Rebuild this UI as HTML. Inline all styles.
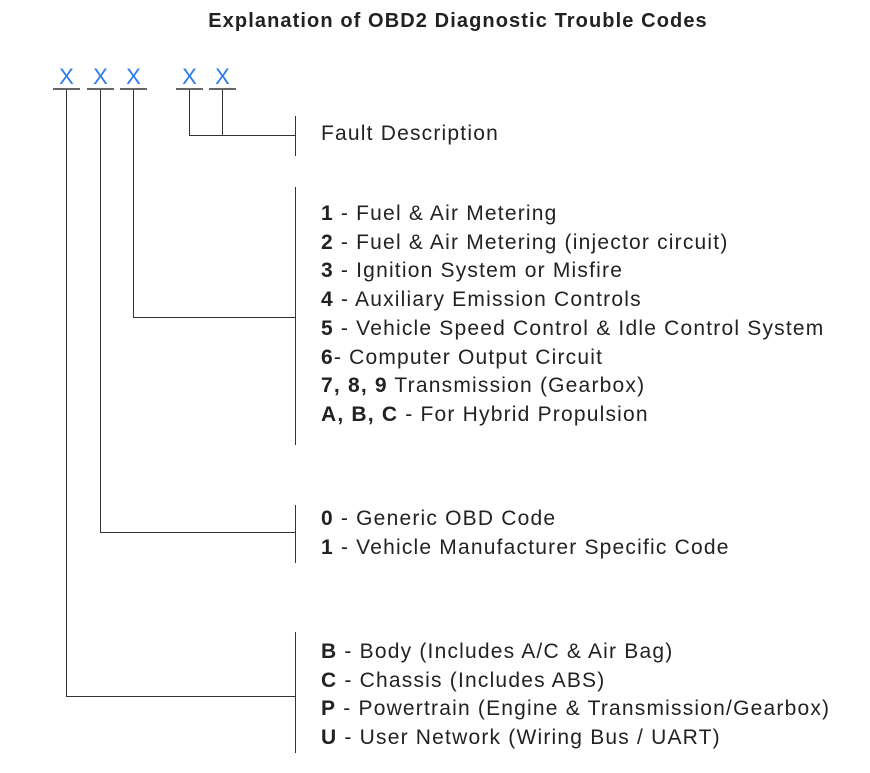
<!DOCTYPE html>
<html><head><meta charset="utf-8"><style>
body{margin:0;width:870px;height:773px;background:#fff;position:relative;overflow:hidden;font-family:"Liberation Sans",sans-serif;color:#222}
.t{position:absolute;left:23px;width:870px;text-align:center;top:10px;font-weight:bold;font-size:20px;letter-spacing:1.1px}
.x{position:absolute;top:64px;color:#2a7bf0;font-size:22px;width:27px;text-align:center}
.l{position:absolute;background:#666}
.k{position:absolute;background:#333}
.g{position:absolute;left:321px;font-size:21px;line-height:28.7px;white-space:nowrap;letter-spacing:1.2px}
b{font-weight:bold}
</style></head><body>
<div class="t">Explanation of OBD2 Diagnostic Trouble Codes</div>
<div class="x" style="left:53px">X</div>
<div class="x" style="left:87px">X</div>
<div class="x" style="left:120px">X</div>
<div class="x" style="left:176px">X</div>
<div class="x" style="left:209px">X</div>
<div class="l" style="left:53px;top:88px;width:27px;height:2px"></div>
<div class="l" style="left:87px;top:88px;width:27px;height:2px"></div>
<div class="l" style="left:120px;top:88px;width:27px;height:2px"></div>
<div class="l" style="left:176px;top:88px;width:27px;height:2px"></div>
<div class="l" style="left:209px;top:88px;width:27px;height:2px"></div>
<div class="k" style="left:66px;top:90px;width:1px;height:607px"></div>
<div class="k" style="left:100px;top:90px;width:1px;height:443px"></div>
<div class="k" style="left:133px;top:90px;width:1px;height:228px"></div>
<div class="k" style="left:189px;top:90px;width:1px;height:45px"></div>
<div class="k" style="left:222px;top:90px;width:1px;height:45px"></div>
<div class="k" style="left:189px;top:135px;width:106px;height:1px"></div>
<div class="k" style="left:133px;top:317px;width:162px;height:1px"></div>
<div class="k" style="left:100px;top:532px;width:195px;height:1px"></div>
<div class="k" style="left:66px;top:696px;width:229px;height:1px"></div>
<div class="k" style="left:295px;top:116px;width:1px;height:40px"></div>
<div class="k" style="left:295px;top:187px;width:1px;height:258px"></div>
<div class="k" style="left:295px;top:505px;width:1px;height:58px"></div>
<div class="k" style="left:295px;top:632px;width:1px;height:121px"></div>
<div class="g" style="top:120px">Fault Description</div>
<div class="g" style="top:200px"><b>1</b> - Fuel &amp; Air Metering<br><b>2</b> - Fuel &amp; Air Metering (injector circuit)<br><b>3</b> - Ignition System or Misfire<br><b>4</b> - Auxiliary Emission Controls<br><b>5</b> - Vehicle Speed Control &amp; Idle Control System<br><b>6</b>- Computer Output Circuit<br><b>7, 8, 9</b> Transmission (Gearbox)<br><b>A, B, C</b> - For Hybrid Propulsion</div>
<div class="g" style="top:505px"><b>0</b> - Generic OBD Code<br><b>1</b> - Vehicle Manufacturer Specific Code</div>
<div class="g" style="top:638px"><b>B</b> - Body (Includes A/C &amp; Air Bag)<br><b>C</b> - Chassis (Includes ABS)<br><b>P</b> - Powertrain (Engine &amp; Transmission/Gearbox)<br><b>U</b> - User Network (Wiring Bus / UART)</div>
</body></html>
